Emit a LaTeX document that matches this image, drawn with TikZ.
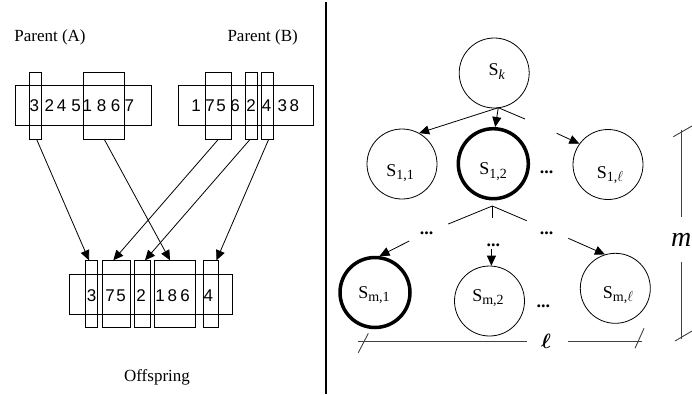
\documentclass[tikz,border=0pt]{standalone}
\usepackage{fontspec}
\usepackage{bm}
\setmainfont{Liberation Serif}
\newfontfamily\digitfont{Liberation Sans}
\usetikzlibrary{arrows.meta}
\newcommand\sbx[1]{\raisebox{-3.5pt}{\fontsize{14}{14}\selectfont #1}}
\begin{document}
\begin{tikzpicture}[x=1pt,y=-1pt,
  thinline/.style={line width=0.8pt},
  box/.style={draw, line width=0.8pt, rectangle, inner sep=0pt},
  dig/.style={font=\digitfont\fontsize{17}{17}\selectfont, inner sep=0pt},
  lbl/.style={font=\fontsize{17}{17}\selectfont, inner sep=0pt},
  slbl/.style={font=\fontsize{18}{18}\selectfont, inner sep=0pt},
  arr/.style={line width=0.8pt, -{Triangle[length=10pt,width=9pt]}},
  circ/.style={draw, circle, line width=0.8pt, minimum size=70pt, inner sep=0pt},
  thickcirc/.style={circ, line width=3.5pt},
  measure/.style={line width=0.9pt, black!75},
  dots/.style={font=\bfseries\fontsize{18}{18}\selectfont, inner sep=0pt}
]
\useasboundingbox (0,0) rectangle (692,394);

% ---------- left panel ----------
\node[lbl] (pA) at (50,37.7) {Parent (A)};
\node[lbl] (pB) at (262.7,37.7) {Parent (B)};
\node[lbl] (off) at (157,377) {Offspring};

% parent A
\node[box, minimum width=136pt, minimum height=39.3pt] (Abar) at (83,105.35) {};
\node[box, minimum width=12.7pt, minimum height=66.7pt] (A1) at (35.35,105.65) {};
\node[box, minimum width=41pt, minimum height=66.7pt] (A2) at (103.5,105.65) {};
\foreach \x/\d [count=\i] in {34.3/3,49.3/2,61.7/4,76/5,87.3/1,101.7/8,115.7/6,129.3/7}
  \node[dig] (ad\i) at (\x,106) {\d};

% parent B
\node[box, minimum width=135pt, minimum height=39.3pt] (Bbar) at (245.8,105.35) {};
\node[box, minimum width=26pt, minimum height=66.7pt] (B1) at (218.7,105.65) {};
\node[box, minimum width=12.7pt, minimum height=66.7pt] (B2) at (251.35,105.65) {};
\node[box, minimum width=12.3pt, minimum height=66.7pt] (B3) at (267.15,105.65) {};
\foreach \x/\d [count=\i] in {196/1,210/7,221/5,235/6,251/2,266.7/4,282.3/3,294.3/8}
  \node[dig] (bd\i) at (\x,106) {\d};

% offspring
\node[box, minimum width=163pt, minimum height=39.7pt] (Obar) at (150.8,294.15) {};
\node[box, minimum width=12pt, minimum height=66.6pt] (O1) at (91.7,294) {};
\node[box, minimum width=28.4pt, minimum height=66.6pt] (O2) at (116.5,294) {};
\node[box, minimum width=15.6pt, minimum height=66.6pt] (O3) at (142.5,294) {};
\node[box, minimum width=40.7pt, minimum height=66.6pt] (O4) at (174.65,294) {};
\node[box, minimum width=14.7pt, minimum height=66.6pt] (O5) at (210.65,294) {};
\foreach \x/\d [count=\i] in {91.7/3,110/7,121/5,141/2,160/1,172.3/8,185/6,208.3/4}
  \node[dig] (od\i) at (\x,295.7) {\d};

% arrows
\draw[arr] ([xshift=1.3pt]A1.south) -- ([xshift=-2.7pt]O1.north);
\draw[arr] ([xshift=0.8pt]A2.south) -- ([xshift=-4.6pt]O4.north);
\draw[arr] ([xshift=-0.4pt]B1.south) -- ([xshift=-3.2pt]O2.north);
\draw[arr] ([xshift=-1.3pt]B2.south) -- ([xshift=2.5pt]O3.north);
\draw[arr] ([xshift=1.5pt]B3.south) -- ([xshift=5.8pt]O5.north);

% divider
\draw[line width=1.2pt] (326,2) -- (326,394);

% ---------- right panel ----------
\node[circ] (Sk) at (494.2,73) {};
\node[circ] (S11) at (402,164) {};
\node[thickcirc] (S12) at (493.3,163.7) {};
\node[circ] (S1l) at (608,164.5) {};
\node[thickcirc] (Sm1) at (375,292.5) {};
\node[circ] (Sm2) at (489.5,301) {};
\node[circ] (Sml) at (615.3,288.3) {};

\node[slbl] (tSk) at (496.7,71.7) {S\sbx{\itshape k}};
\node[slbl] (tS11) at (400,173) {S\sbx{1,1}};
\node[slbl] (tS12) at (493,171.7) {S\sbx{1,2}};
\node[slbl] (tS1l) at (610,175) {S\sbx{1,$\ell$}};
\node[slbl] (tSm1) at (374,295) {S\sbx{m,1}};
\node[slbl] (tSm2) at (488,298.3) {S\sbx{m,2}};
\node[slbl] (tSml) at (618,295) {S\sbx{m,$\ell$}};

\node[dots] (d1) at (546.7,172) {...};
\node[dots] (d2) at (426.7,233.3) {...};
\node[dots] (d3) at (493.3,245) {...};
\node[dots] (d4) at (546.7,233.3) {...};
\node[dots] (d5) at (543.3,306.7) {...};

% connectors from S_k
\coordinate (j1) at (498.3,107.7);
\coordinate (jr) at (525,119);
\coordinate (s1l) at (556.7,133.3);
\draw[arr] (j1) -- (S11.61);
\draw[arr] (j1) -- (S12.87);
\draw[thinline] (j1) -- (jr);
\draw[arr] (s1l) -- (S1l.144);

% connectors below S_{1,2}
\coordinate (a2) at (492.3,206);
\coordinate (a2l) at (448.3,224);
\coordinate (a2r) at (526.7,220.7);
\coordinate (a2d) at (492.3,217.7);
\draw[thinline] (a2l) -- (a2) -- (a2r);
\draw[thinline] (a2) -- (a2d);
\coordinate (m1s) at (409.3,241);
\coordinate (m2s) at (491.5,249);
\coordinate (m3s) at (568.3,238.3);
\draw[arr] (m1s) -- (Sm1.83);
\draw[arr] (m2s) -- (Sm2.87);
\draw[arr] (m3s) -- (Sml.107);

% measure l
\node[font=\fontsize{22}{22}\selectfont, inner sep=0pt] (ell) at (546,341) {$\bm{\ell}$};
\coordinate (l1) at (358.3,341.7);
\coordinate (l2) at (526.7,341.7);
\coordinate (l3) at (568.3,341.7);
\coordinate (l4) at (641.7,341.7);
\draw[measure] (l1) -- (l2);
\draw[measure] (l3) -- (l4);
\draw[measure] (358.3,352.7) -- (368.3,333.3);
\draw[measure] (635,348.3) -- (644,328.3);

% measure m
\node[font=\itshape\fontsize{28}{28}\selectfont, anchor=west, inner sep=0pt] (mlab) at (671,240) {m};
\coordinate (v1) at (681.7,130);
\coordinate (v2) at (681.7,216.7);
\coordinate (v3) at (681.7,262);
\coordinate (v4) at (681.7,339);
\draw[measure] (v1) -- (v2);
\draw[measure] (v3) -- (v4);
\draw[measure] (673.3,136.7) -- (692,126);
\draw[measure] (675,341) -- (692,331);
\end{tikzpicture}
\end{document}
